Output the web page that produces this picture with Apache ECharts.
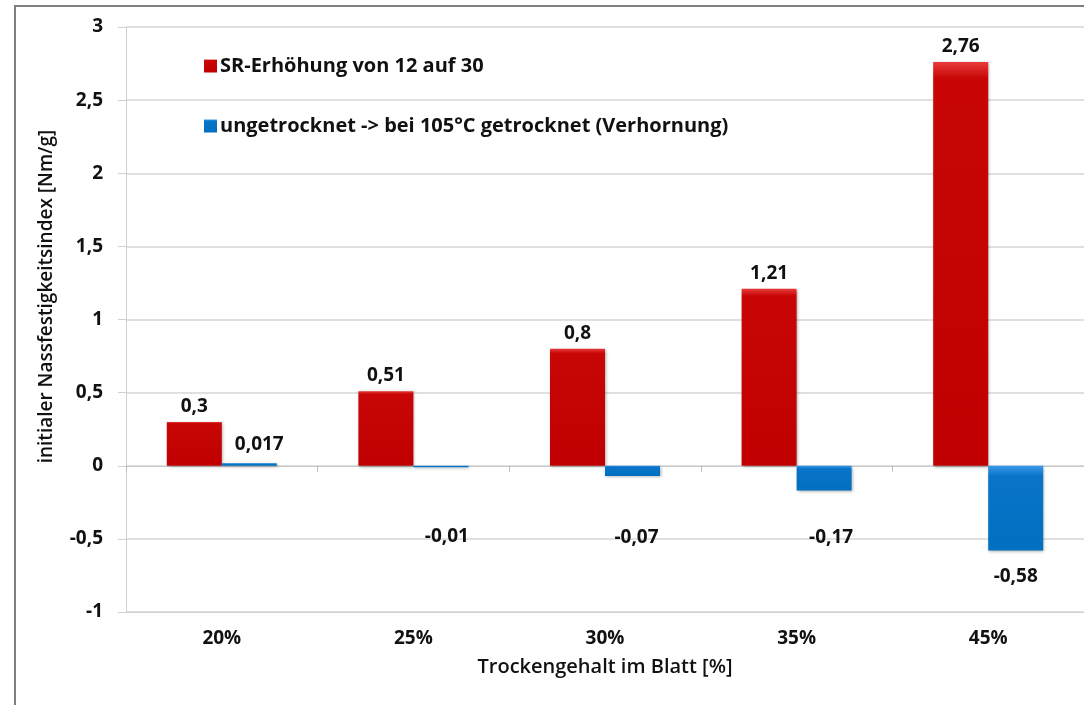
<!DOCTYPE html>
<html>
<head>
<meta charset="utf-8">
<script src="https://cdn.jsdelivr.net/npm/echarts@6/dist/echarts.min.js"></script>
<style>
  html, body { margin: 0; padding: 0; background: #fff; }
  #chart { width: 1084px; height: 705px; }
</style>
</head>
<body>
<div id="chart"></div>
<script>
// categories and values
const categories = ['20%', '25%', '30%', '35%', '45%'];
const srValues = [0.3, 0.51, 0.8, 1.21, 2.76];
const dryValues = [0.017, -0.01, -0.07, -0.17, -0.58];
const seriesNames = ['SR-Erhöhung von 12 auf 30', 'ungetrocknet -> bei 105°C getrocknet (Verhornung)'];

const font = '"Open Sans", Lato, sans-serif';
const fmt = (v) => String(v).replace('.', ',');

const redFill = new echarts.graphic.LinearGradient(0, 0, 0, 1, [
  { offset: 0, color: '#e83a3a' },
  { offset: 0.04, color: '#c80606' },
  { offset: 1, color: '#c00000' }
]);
const blueFill = new echarts.graphic.LinearGradient(0, 0, 0, 1, [
  { offset: 0, color: '#3a9ae8' },
  { offset: 0.12, color: '#0a74c8' },
  { offset: 1, color: '#0070c0' }
]);

// label offsets for the blue series (reference places them unevenly)
const dryLabelOffsets = [[10, 0], [6, 51], [4, 43], [7, 28], [0, 8]];

const chart = echarts.init(document.getElementById('chart'));
chart.setOption({
  animation: false,
  textStyle: { fontFamily: font },
  graphic: [{
    type: 'rect',
    shape: { x: 15, y: 6, width: 1100, height: 720 },
    style: { fill: 'none', stroke: '#7f7f7f', lineWidth: 2 },
    silent: true
  }],
  legend: {
    orient: 'vertical',
    left: 199,
    top: 51,
    itemGap: 40,
    itemWidth: 13,
    itemHeight: 13,
    icon: 'rect',
    textStyle: { fontSize: 20, fontWeight: 'bold', color: '#111', fontFamily: font, padding: [0, 0, 0, -2] },
    data: seriesNames
  },
  grid: { left: 126, right: 0, top: 27, bottom: 93 },
  xAxis: [{
    type: 'category',
    data: categories,
    name: 'Trockengehalt im Blatt [%]',
    nameLocation: 'middle',
    nameGap: 45,
    nameTextStyle: { fontSize: 20, fontWeight: 600, color: '#111', fontFamily: font },
    axisLine: { onZero: false, lineStyle: { color: '#d0d0d0', width: 1 } },
    axisTick: { show: false },
    axisLabel: { fontSize: 19, fontWeight: 'bold', color: '#111', margin: 17 }
  }, {
    type: 'category',
    data: categories,
    position: 'bottom',
    axisLine: { onZero: true, lineStyle: { color: '#c8c8c8' } },
    axisTick: { show: true, length: 6, lineStyle: { color: '#bbb' } },
    axisLabel: { show: false }
  }],
  yAxis: {
    type: 'value',
    min: -1,
    max: 3,
    interval: 0.5,
    name: 'initialer Nassfestigkeitsindex [Nm/g]',
    nameLocation: 'middle',
    nameGap: 70,
    nameTextStyle: { fontSize: 19, fontWeight: 600, color: '#111', fontFamily: font, padding: [0, 0, 0, 46] },
    axisLine: { show: true, lineStyle: { color: '#d0d0d0' } },
    axisTick: { show: true, length: 8, lineStyle: { color: '#d0d0d0' } },
    splitLine: { lineStyle: { color: '#d6d6d6', width: 1.5 } },
    axisLabel: { fontSize: 19, fontWeight: 'bold', color: '#111', margin: 23, formatter: fmt }
  },
  series: [{
    name: seriesNames[0],
    type: 'bar',
    data: srValues,
    barWidth: 55,
    barGap: '0%',
    itemStyle: {
      color: redFill,
      shadowColor: 'rgba(0,0,0,0.35)',
      shadowBlur: 3,
      shadowOffsetX: 1,
      shadowOffsetY: 1
    },
    label: {
      show: true,
      position: 'top',
      distance: 6,
      fontSize: 19,
      fontWeight: 'bold',
      color: '#111',
      formatter: (p) => fmt(p.value)
    }
  }, {
    name: seriesNames[1],
    type: 'bar',
    data: dryValues.map((v, i) => ({
      value: v,
      label: { offset: dryLabelOffsets[i] }
    })),
    barWidth: 55,
    itemStyle: {
      color: blueFill,
      shadowColor: 'rgba(0,0,0,0.35)',
      shadowBlur: 3,
      shadowOffsetX: 1,
      shadowOffsetY: 1
    },
    label: {
      show: true,
      position: 'outside',
      distance: 9,
      fontSize: 19,
      fontWeight: 'bold',
      color: '#111',
      formatter: (p) => fmt(p.value)
    }
  }]
});
</script>
</body>
</html>
